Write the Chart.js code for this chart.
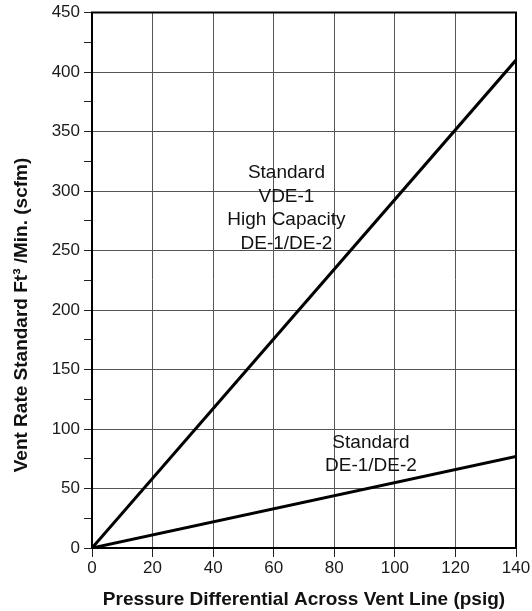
<!DOCTYPE html>
<html>
<head>
<meta charset="utf-8">
<script src="https://cdn.jsdelivr.net/npm/chart.js@4/dist/chart.umd.min.js"></script>
<style>
  html, body { margin: 0; padding: 0; background: #fff; }
  #wrap { width: 532px; height: 611px; }
</style>
</head>
<body>
<div id="wrap"><canvas id="chart"></canvas></div>
<script>
// values
const pressure = [0, 140];
const highCapacityRate = [0, 410];   // Standard VDE-1 / High Capacity DE-1/DE-2
const standardRate = [0, 77];        // Standard DE-1/DE-2
const upperLabel = ['Standard', 'VDE-1', 'High Capacity', 'DE-1/DE-2'];
const lowerLabel = ['Standard', 'DE-1/DE-2'];
const xTitle = 'Pressure Differential Across Vent Line (psig)';
const yTitle = 'Vent Rate Standard Ft³ /Min. (scfm)';

const toPoints = ys => pressure.map((x, i) => ({ x: x, y: ys[i] }));

const FONT = '"Liberation Sans", Arial, sans-serif';

// frame around the plot, line captions and the rotated y title
const extras = {
    id: 'extras',
    afterDraw(chart) {
        const { ctx, chartArea: a, scales } = chart;
        ctx.save();
        ctx.strokeStyle = '#000';
        ctx.lineWidth = 2;
        ctx.strokeRect(a.left, a.top, a.right - a.left, a.bottom - a.top);

        ctx.fillStyle = '#111';
        ctx.font = '19px ' + FONT;
        ctx.textAlign = 'center';
        ctx.textBaseline = 'alphabetic';
        const block = (lines, x, y) => {
            const px = scales.x.getPixelForValue(x);
            const py = scales.y.getPixelForValue(y);
            lines.forEach((t, i) => ctx.fillText(t, px, py + 6.5 + i * 23.5));
        };
        block(upperLabel, 64.2, 316.3);
        block(lowerLabel, 92.1, 89.7);

        ctx.font = 'bold 19px ' + FONT;
        ctx.translate(27, 315);
        ctx.rotate(-Math.PI / 2);
        ctx.fillText(yTitle, 0, 0);
        ctx.restore();
    }
};

new Chart(document.getElementById('chart').getContext('2d'), {
    type: 'line',
    data: {
        datasets: [{
            label: 'Standard VDE-1 / High Capacity DE-1/DE-2',
            data: toPoints(highCapacityRate),
            borderColor: '#000',
            borderWidth: 3,
            pointRadius: 0,
            fill: false
        }, {
            label: 'Standard DE-1/DE-2',
            data: toPoints(standardRate),
            borderColor: '#000',
            borderWidth: 3,
            pointRadius: 0,
            fill: false
        }]
    },
    options: {
        responsive: true,
        maintainAspectRatio: false,
        animation: false,
        layout: { padding: { top: 11, right: 16, left: 0, bottom: 0 } },
        plugins: {
            legend: { display: false },
            tooltip: { enabled: false }
        },
        scales: {
            x: {
                type: 'linear',
                min: 0,
                max: 140,
                border: { color: '#000', width: 2 },
                grid: {
                    color: c => c.tick && c.tick.value % 20 === 0 ? '#555' : 'rgba(0,0,0,0)',
                    tickColor: '#222',
                    tickLength: 9,
                    lineWidth: 1
                },
                ticks: {
                    stepSize: 10,
                    color: '#1a1a1a',
                    font: { family: FONT, size: 17, lineHeight: 1 },
                    padding: 3,
                    maxRotation: 0,
                    callback: v => v % 20 === 0 ? v : ''
                },
                title: {
                    display: true,
                    text: xTitle,
                    color: '#111',
                    font: { family: FONT, size: 19, weight: 'bold' },
                    padding: { top: 5, bottom: 0 }
                },
                afterFit: s => { s.height = 63; s.paddingRight = 0; }
            },
            y: {
                min: 0,
                max: 450,
                border: { color: '#000', width: 2 },
                grid: {
                    color: c => c.tick && c.tick.value % 50 === 0 ? '#555' : 'rgba(0,0,0,0)',
                    tickColor: '#222',
                    tickLength: 8,
                    lineWidth: 1
                },
                ticks: {
                    stepSize: 25,
                    color: '#1a1a1a',
                    font: { family: FONT, size: 17, lineHeight: 1 },
                    padding: 4,
                    callback: v => v % 50 === 0 ? v : ''
                },
                afterFit: s => { s.width = 92; }
            }
        }
    },
    plugins: [extras]
});
</script>
</body>
</html>
